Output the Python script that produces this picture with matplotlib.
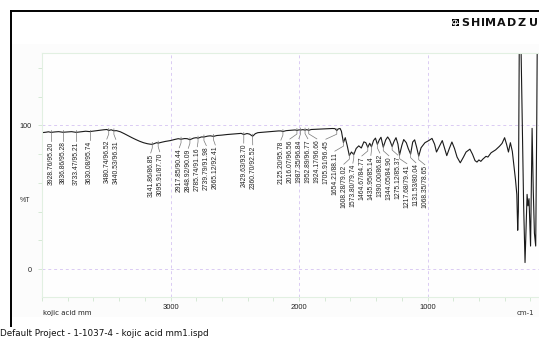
import matplotlib
matplotlib.use("Agg")
import matplotlib.pyplot as plt
from matplotlib import font_manager
from matplotlib.patches import Rectangle, Circle
from matplotlib.ticker import MultipleLocator

# IR spectrum (wavenumber in cm-1, transmittance in %)
wavenumber = [
    4000, 3970, 3950, 3928.76, 3900, 3870, 3836.86, 3800, 3770, 3733.47,
    3700, 3660, 3630.08, 3600, 3560, 3520, 3495, 3480.74, 3462, 3440.53,
    3420, 3390, 3360, 3330, 3300, 3270, 3240, 3210, 3180, 3160,
    3141.86, 3120, 3108, 3095.91, 3070, 3040, 3000, 2970, 2940, 2917.85,
    2890, 2870, 2848.92, 2820, 2800, 2785.74, 2760, 2739.79, 2710, 2690,
    2665.12, 2640, 2600, 2560, 2520, 2480, 2450, 2429.63, 2405, 2385,
    2360.70, 2340, 2320, 2280, 2240, 2200, 2160, 2140, 2125.20, 2100,
    2060, 2030, 2016.07, 2000, 1987.35, 1970, 1952.89, 1940, 1924.17, 1905,
    1860, 1820, 1780, 1740, 1720, 1705.91, 1695, 1680, 1670, 1654.21,
    1640, 1625, 1608.28, 1592, 1573.80, 1555, 1535, 1515, 1495, 1480,
    1464.67, 1450, 1435.95, 1420, 1405, 1390.00, 1375, 1362, 1344.05, 1325,
    1310, 1295, 1275.12, 1260, 1245, 1230, 1217.68, 1200, 1185, 1165,
    1150, 1131.53, 1115, 1100, 1085, 1068.35, 1050, 1020, 990, 965,
    945, 930, 910, 885, 870, 850, 830, 810, 790, 770,
    745, 720, 700, 670, 650, 630, 615, 600, 585, 570,
    545, 530, 505, 470, 440, 420, 400, 385, 370, 355,
    340, 325, 315, 305, 298, 293, 285, 275, 262, 252,
    241, 232, 225, 218, 210, 198, 186, 177, 168, 158,
    150, 145, 130,
]
transmittance = [
    95.0, 95.3, 95.6, 95.20, 95.5, 95.7, 95.28, 95.5, 95.7, 95.21,
    95.6, 96.0, 95.74, 96.1, 96.6, 97.0, 97.2, 96.52, 97.0, 96.31,
    96.4, 95.6, 94.3, 92.9, 91.5, 90.2, 89.0, 88.0, 87.3, 87.0,
    86.85, 87.6, 88.0, 87.70, 88.3, 88.9, 89.5, 90.2, 90.8, 90.44,
    90.9, 90.8, 90.09, 91.2, 91.5, 91.16, 92.0, 91.98, 92.6, 92.8,
    92.41, 93.0, 93.3, 93.7, 94.0, 94.3, 94.5, 93.70, 94.4, 94.0,
    92.52, 94.3, 95.0, 95.3, 95.6, 95.9, 96.2, 96.2, 95.78, 96.4,
    96.7, 96.9, 96.56, 96.95, 96.84, 97.1, 96.77, 97.1, 96.66, 97.2,
    97.4, 97.6, 97.7, 97.9, 97.8, 96.45, 97.6, 97.9, 96.0, 88.11,
    91.5, 86.0, 79.02, 81.5, 79.74, 84.0, 85.8, 84.3, 88.6, 88.0,
    84.77, 87.6, 85.14, 89.5, 91.2, 86.82, 90.0, 91.8, 84.90, 90.0,
    92.0, 90.0, 85.37, 89.0, 91.5, 87.0, 79.41, 86.0, 90.2, 88.0,
    84.0, 80.04, 88.5, 90.0, 85.0, 78.65, 84.5, 88.0, 89.5, 91.0,
    87.0, 81.5, 85.0, 89.5, 85.0, 79.0, 84.0, 88.5, 84.0, 78.0,
    74.0, 78.0, 81.5, 83.5, 80.0, 75.5, 74.5, 76.0, 75.0, 76.5,
    78.5, 78.0, 81.0, 83.0, 85.5, 87.5, 91.5, 87.0, 81.5, 88.0,
    82.0, 70.0, 62.0, 52.0, 27.0, 40.0, 170.0, 170.0, 100.0, 45.0,
    4.5, 30.0, 52.0, 44.0, 49.0, 16.0, 98.0, 55.0, 25.0, 16.0,
    100.0, 170.0, 170.0,
]

# picked peaks
peak_wn = [
    3928.76, 3836.86, 3733.47, 3630.08, 3480.74, 3440.53, 3141.86, 3095.91,
    2917.85, 2848.92, 2785.74, 2739.79, 2665.12, 2429.63, 2360.70, 2125.20,
    2016.07, 1987.35, 1952.89, 1924.17, 1705.91, 1654.21, 1608.28, 1573.80,
    1464.67, 1435.95, 1390.00, 1344.05, 1275.12, 1217.68, 1131.53, 1068.35,
]
peak_t = [
    95.20, 95.28, 95.21, 95.74, 96.52, 96.31, 86.85, 87.70,
    90.44, 90.09, 91.16, 91.98, 92.41, 93.70, 92.52, 95.78,
    96.56, 96.84, 96.77, 96.66, 96.45, 88.11, 79.02, 79.74,
    84.77, 85.14, 86.82, 84.90, 85.37, 79.41, 80.04, 78.65,
]

x_ticks = [3000, 2000, 1000]
y_ticks = [0, 100]
sample_name = "kojic acid mm"
footer = "Default Project - 1-1037-4 - kojic acid mm1.ispd"

W, H = 539, 340
X0, X1, Y0, Y1 = 42, W, 53, 297   # plot box in pixels
px_per_wn = 0.1285

installed = {f.name for f in font_manager.fontManager.ttflist}
if "Liberation Sans Narrow" in installed:
    narrow, peak_size = "Liberation Sans Narrow", 5.8
else:
    narrow, peak_size = "Liberation Sans", 4.9
sans = "Liberation Sans"

fig = plt.figure(figsize=(W / 100, H / 100), dpi=100)

# page background, frame lines and header in pixel coordinates
bg = fig.add_axes([0, 0, 1, 1])
bg.set_xlim(0, W)
bg.set_ylim(H, 0)
bg.axis("off")
bg.add_patch(Rectangle((12, 44), W - 12, 273, color="#fcfcfc", lw=0))
bg.plot([10, W], [10.5, 10.5], color="black", lw=1.4, solid_capstyle="butt")
bg.plot([11, 11], [10, 327], color="black", lw=1.4, solid_capstyle="butt")

# maker logo
bg.add_patch(Rectangle((451.5, 19), 7, 7, color="black", lw=0))
bg.add_patch(Circle((455, 22.5), 2.4, fill=False, ec="white", lw=0.6))
bg.plot([455, 455], [20, 25], color="white", lw=0.6)
bg.plot([452.5, 457.5], [22.5, 22.5], color="white", lw=0.6)
logo_x = [465, 476, 482.8, 490, 501, 511.5, 522, 533]
for ch, lx in zip("SHIMADZU", logo_x):
    bg.text(lx, 23, ch, ha="center", va="center", fontsize=8,
            fontweight="bold", family="DejaVu Sans", color="#111")

bg.text(25, 200, "%T", ha="center", va="center", fontsize=5, family=sans, color="#333")
bg.text(43, 313, sample_name, ha="left", va="center", fontsize=5, family="DejaVu Sans", color="#222")
bg.text(525, 313, "cm-1", ha="center", va="center", fontsize=5, family="DejaVu Sans", color="#333")
bg.text(0, 333, footer, ha="left", va="center", fontsize=6.3, family="DejaVu Sans", color="#111")

# spectrum axes
ax = fig.add_axes([X0 / W, 1 - Y1 / H, (X1 - X0) / W, (Y1 - Y0) / H])
ax.set_facecolor("#fefefe")
ax.plot(wavenumber, transmittance, color="#1a1a1a", lw=0.8)
ax.set_xlim(4000, 4000 - (X1 - X0) / px_per_wn)
ax.set_ylim(-19.5, 150.5)

ax.set_xticks(x_ticks)
ax.set_yticks(y_ticks)
ax.xaxis.set_minor_locator(MultipleLocator(200))
ax.yaxis.set_minor_locator(MultipleLocator(20))
ax.grid(True, which="major", ls=(0, (3, 3)), color="#dacbf3", lw=0.7)
ax.tick_params(which="both", direction="out", length=3, width=0.6, color="#cfe6cf")
ax.tick_params(axis="x", labelsize=5.5, pad=2, labelcolor="#222")
ax.tick_params(axis="y", labelsize=5.2, pad=4.3, labelcolor="#222")
for lbl in ax.get_xticklabels() + ax.get_yticklabels():
    lbl.set_family(sans)
for side in ["top", "left", "bottom"]:
    ax.spines[side].set_color("#e2f0e2")
    ax.spines[side].set_linewidth(0.8)
ax.spines["right"].set_visible(False)

# spread peak labels so neighbouring texts do not overlap
gap = 9.0 / px_per_wn
order = sorted(range(len(peak_wn)), key=lambda i: -peak_wn[i])
lab = [-peak_wn[i] for i in order]
for _ in range(400):
    for k in range(len(lab) - 1):
        d = lab[k + 1] - lab[k]
        if d < gap:
            s = (gap - d) / 2
            lab[k] -= s
            lab[k + 1] += s

for k, i in enumerate(order):
    w, t = peak_wn[i], peak_t[i]
    lx = -lab[k]
    ax.plot([w, w, lx], [t + 1.4, t - 2.5, t - 6.0], color="#777", lw=0.5)
    ax.text(lx, t - 6.4, f"{w:.2f}/{t:.2f}", rotation=90, ha="center", va="top",
            fontsize=peak_size, family=narrow, color="#222")

fig.savefig("out.png", dpi=100)
